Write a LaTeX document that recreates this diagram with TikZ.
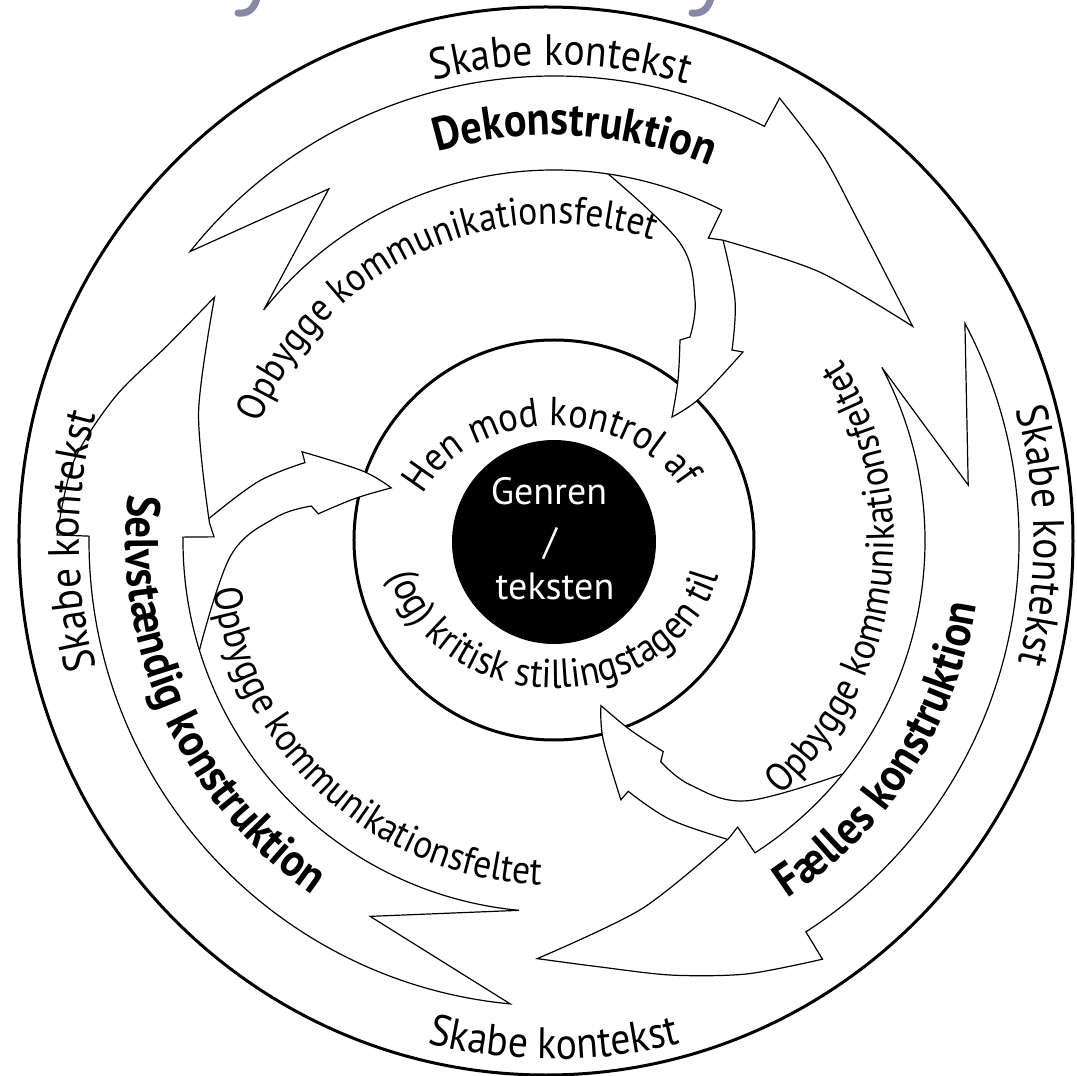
\documentclass[tikz,border=0pt]{standalone}
\usepackage{fontspec}
\setmainfont{PT Sans}[FakeStretch=0.9]
\newfontfamily\genrefamily{PT Sans}
\usetikzlibrary{decorations.text}
\definecolor{titlecol}{RGB}{135,135,168}
\newcommand\fSkabe{\fontsize{44}{44}\selectfont}
\newcommand\fBold{\fontsize{47}{47}\selectfont\bfseries}
\newcommand\fOp{\fontsize{39.5}{40}\selectfont}
\newcommand\fHen{\fontsize{40.5}{41}\selectfont}
\tikzset{
  arrowline/.style={draw=black, fill=white, line width=1.2, line join=miter},
  thickline/.style={draw=black, line width=3},
  genretext/.style={text=white, font=\genrefamily\fontsize{38}{38}\selectfont, inner sep=0pt, anchor=base},
}
% big curved arrow: #1 tail angle, #2 notch angle, #3 barb angle, #4 tip angle,
% #5 #6 #7 radii of the outer head edge at 1/4, 1/2, 3/4 of the head
\newcommand\bigarrow[7]{%
  \filldraw[arrowline] (#1:465) arc[start angle=#1, end angle=#3, radius=465]
    -- ({#3-0.1}:497)
    -- plot[smooth, tension=0.5] coordinates {({#3-0.1}:497) ({#3-0.25*(#3-#4)}:#5) ({#3-0.5*(#3-#4)}:#6) ({#3-0.75*(#3-#4)}:#7) (#4:418)}
    -- plot[smooth, tension=0.5] coordinates {(#4:418) ({#3-0.55*(#3-#4)}:378) ({#3-2.4}:345)}
    -- ({#3-0.1}:340) -- (#3:371) arc[start angle=#3, end angle=#1, radius=371]
    -- (#2:418) -- cycle;}
% small inward arrow, template drawn for the top one, rotated by #1
\newcommand\smallarrow[1]{%
  \filldraw[arrowline, rotate=#1] (60,395) -- (53,368)
    -- plot[smooth, tension=0.6] coordinates {(53,368) (126,298) (141,241) (136,204)}
    -- (126,201)
    -- plot[smooth, tension=0.6] coordinates {(126,201) (124,161) (118,124)}
    -- plot[smooth, tension=0.6] coordinates {(118,124) (146,143) (189,189)}
    -- (178,191)
    -- plot[smooth, tension=0.6] coordinates {(178,191) (181,241) (169,301)}
    -- (175,335) -- (100,390) -- cycle;}
% text on a circular arc: #1 font, #2 text, #3 radius, #4 start angle, #5 end angle
\newcommand\arctext[5]{%
  \path[decorate, decoration={text along path, text align=center, text={|#1|#2}}]
    (#4:#3) arc[start angle=#4, end angle=#5, radius=#3];}
\begin{document}
\begin{tikzpicture}[x=1pt,y=1pt]
\useasboundingbox (-554,-535) rectangle (523,541);
\fill[white] (-554,-535) rectangle (523,541);
% circles
\draw[thickline] (-8,0) ellipse [x radius=527, y radius=534];
\draw[thickline] (0,1) circle [radius=200];
% small arrows towards the centre
\smallarrow{0}
\smallarrow{-120.5}
\smallarrow{115.5}
% big arrows
\bigarrow{141.5}{122.6}{63.1}{30.9}{470}{443}{426}
\bigarrow{27.9}{7.7}{-57.2}{-92.3}{474}{450}{429}
\bigarrow{264.6}{243.9}{179.4}{144.3}{487}{462}{433}
% centre disk
\fill[black] (0,-1) circle [radius=102];
\node[genretext] (g1) at (-5,36) {Genren};
\node[genretext] (g2) at (-4,-14) {/};
\node[genretext] (g3) at (1,-59) {teksten};
% outer ring texts
\arctext{\fSkabe}{Skabe kontekst}{476}{119.2}{59.2}
\arctext{\fSkabe}{Skabe kontekst}{480}{30.6}{-29.4}
\arctext{\fSkabe}{Skabe kontekst}{518}{240}{300}
\arctext{\fSkabe}{Skabe kontekst}{475}{210}{150}
% stage labels
\arctext{\fBold}{Dekonstruktion}{406}{117.1}{57.1}
\arctext{\fBold}{Fælles konstruktion}{427}{290}{364.6}
\arctext{\fBold}{Selvstændig konstruktion}{428}{164.7}{244.7}
% field building
\arctext{\fOp}{Opbygge kommunikationsfeltet}{317}{165}{65}
\arctext{\fOp}{Opbygge kommunikationsfeltet}{340}{302}{402}
\arctext{\fOp}{Opbygge kommunikationsfeltet}{344}{178}{278}
% inner ring texts
\path[decorate, decoration={text along path, text align=center, text={|\fHen|Hen mod kontrol af}}]
  (172:143 and 115) arc[start angle=172, end angle=12, x radius=143, y radius=115];
\path[decorate, decoration={text along path, text align=center, text={|\fHen|(og) kritisk stillingstagen til}}]
  (185:169 and 147) arc[start angle=185, end angle=355, x radius=169, y radius=147];
% cut-off title fragments at the top edge
\draw[titlecol, line width=7, line cap=round] (-297,543) .. controls (-300,531) and (-307,527) .. (-316,528);
\draw[titlecol, line width=7, line cap=round] (157,543) .. controls (154,531) and (147,527) .. (138,528);
\end{tikzpicture}
\end{document}
